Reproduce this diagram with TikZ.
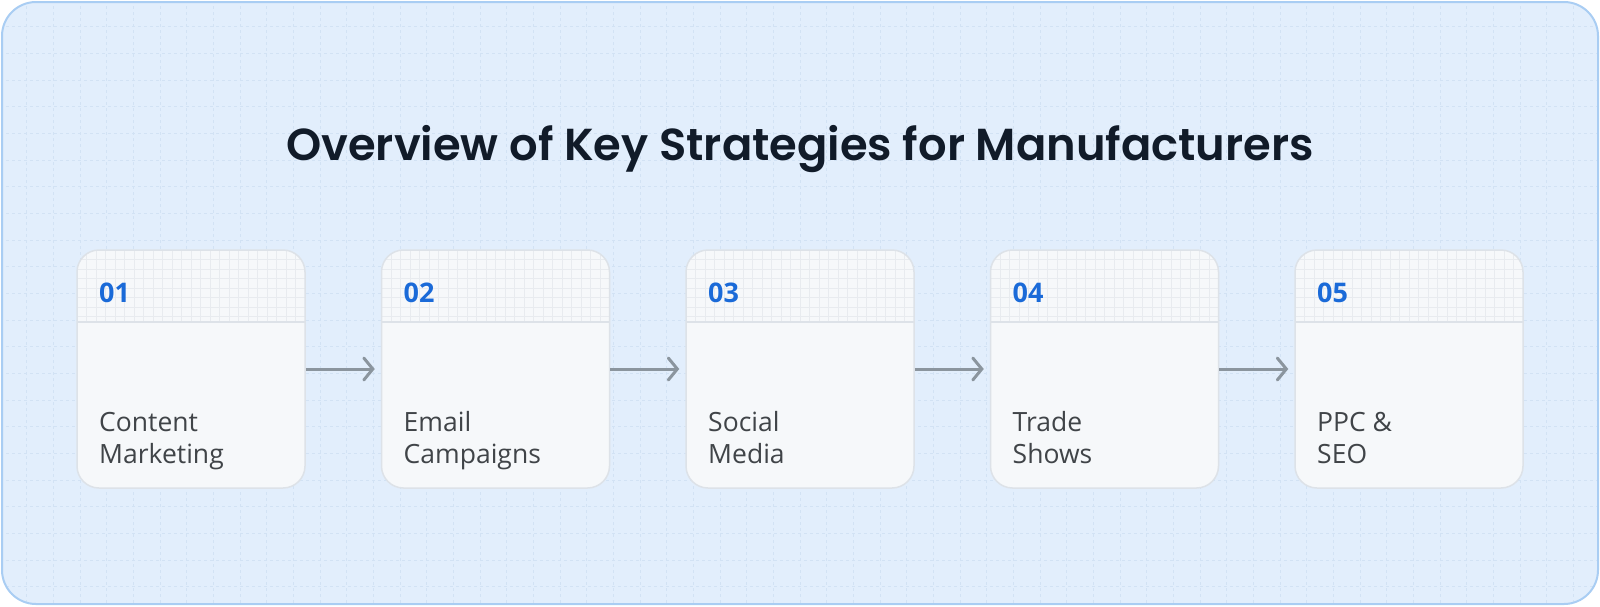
\documentclass[tikz,border=0pt]{standalone}
\usepackage{fontspec}
\setmainfont{Open Sans}
\newfontfamily\titlefont{Poppins}[BoldFont={* SemiBold}]
\usetikzlibrary{arrows.meta}
\definecolor{bgblue}{HTML}{E2EEFC}
\definecolor{bordblue}{HTML}{A9CDF3}
\definecolor{gridblue}{HTML}{D2E2F4}
\definecolor{titlecol}{HTML}{111B29}
\definecolor{cardfill}{HTML}{F6F8FA}
\definecolor{cardline}{HTML}{DDE2E8}
\definecolor{hgrid}{HTML}{E8EBEF}
\definecolor{numblue}{HTML}{1A6AD8}
\definecolor{labcol}{HTML}{404448}
\definecolor{arrcol}{HTML}{8B959E}
\tikzset{
  gridline/.style={draw=gridblue, line width=0.8pt, dash pattern=on 3pt off 3pt},
  cardbox/.style={rectangle, minimum width=228pt, minimum height=238pt, inner sep=0pt,
     rounded corners=22pt, draw=cardline, line width=1.5pt},
  numtext/.style={inner sep=0pt, font=\fontsize{27}{32}\selectfont\bfseries, text=numblue},
  labtext/.style={inner sep=0pt, align=left, font=\fontsize{26.5}{32}\selectfont, text=labcol},
  titletext/.style={inner sep=0pt, font=\titlefont\fontsize{44.8}{50}\selectfont\bfseries, text=titlecol},
  flowarrow/.style={draw=arrcol, line width=3pt, -{Straight Barb[length=9pt,width=22pt,line width=3pt,line cap=round]}}
}
\begin{document}
\begin{tikzpicture}[x=1pt,y=-1pt]
\useasboundingbox (0,0) rectangle (1600,606);
\fill[bgblue, rounded corners=34pt] (2,2) rectangle (1598,604);
\begin{scope}
  \clip[rounded corners=34pt] (2,2) rectangle (1598,604);
  \foreach \i in {1,...,59} \draw[gridline] (\i*26.667,0) -- (\i*26.667,606);
  \foreach \j in {1,...,22} \draw[gridline] (0,\j*26.667) -- (1600,\j*26.667);
\end{scope}
\draw[bordblue, line width=2pt, rounded corners=34pt] (2,2) rectangle (1598,604);

\node[titletext, anchor=base] (title) at (800,160) {Overview of Key Strategies for Manufacturers};

\foreach \k/\num/\txt in {1/01/{Content\\Marketing}, 2/02/{Email\\Campaigns}, 3/03/{Social\\Media}, 4/04/{Trade\\Shows}, 5/05/{PPC \&\\SEO}}{
  \pgfmathsetmacro\lx{77+(\k-1)*304.5}
  \fill[cardfill, rounded corners=22pt] (\lx,250) rectangle (\lx+228,488);
  \begin{scope}
    \clip[rounded corners=22pt] (\lx,250) rectangle (\lx+228,488);
    \foreach \g in {1,...,24} \draw[hgrid, line width=0.6pt] (\lx+\g*9.5,250) -- (\lx+\g*9.5,322);
    \foreach \h in {1,...,7} \draw[hgrid, line width=0.6pt] (\lx,250+\h*9.5) -- (\lx+228,250+\h*9.5);
    \draw[cardline, line width=2pt] (\lx,322) -- (\lx+228,322);
  \end{scope}
  \node[cardbox] (c\k) at (\lx+114,369) {};
  \node[numtext, anchor=base west] (n\k) at (\lx+22,302) {\num};
  \node[labtext, anchor=base west] (t\k) at (\lx+22,463) {\txt};
}
\foreach \k in {1,...,4}{
  \pgfmathtruncatemacro\nx{\k+1}
  \draw[flowarrow] (c\k.east) -- ([xshift=-6pt]c\nx.west);
}
\end{tikzpicture}
\end{document}
